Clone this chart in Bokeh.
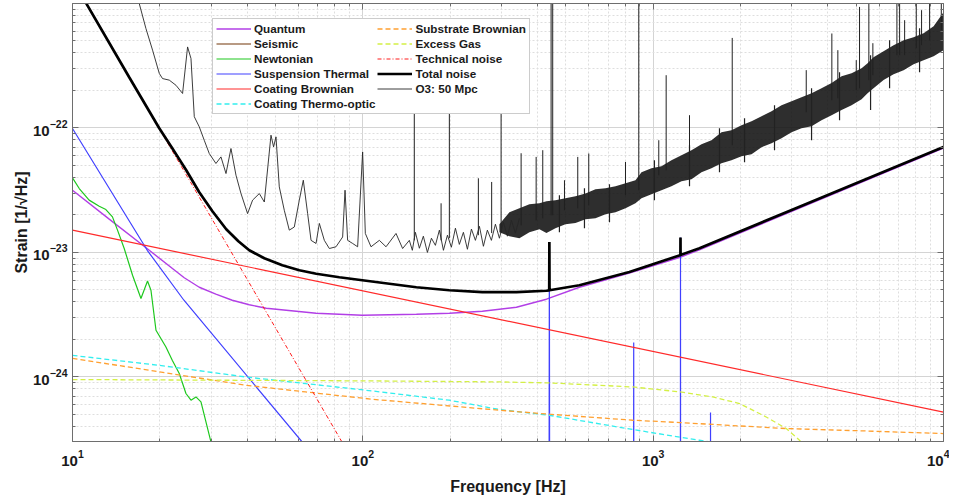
from bokeh.plotting import figure
from bokeh.models import Range1d, LogAxis, FixedTicker, Legend, LegendItem
from bokeh.embed import file_html
from bokeh.resources import INLINE

# ---------------- data (frequency in Hz, strain in 1/sqrt(Hz)) ----------------
quantum_f = [10, 13.38, 18.38, 24.26, 27.33, 31.17, 35.5, 40.63, 46.5, 69.1, 99.6, 152.9, 198.6, 258, 338, 429,
             557, 828, 1238, 1444, 10000]
quantum_h = [3.16e-23, 1.85e-23, 1.04e-23, 6.26e-24, 5.25e-24, 4.62e-24, 4.13e-24, 3.80e-24, 3.56e-24, 3.25e-24,
             3.13e-24, 3.19e-24, 3.25e-24, 3.37e-24, 3.63e-24, 4.21e-24, 5.25e-24, 6.81e-24, 9.15e-24, 1.05e-23,
             6.87e-23]

seismic_f = [10, 15, 20]
seismic_h = [2.0e-25, 1.0e-26, 1.0e-27]

newton_f = [10, 10.55, 11.41, 12.36, 13.03, 13.73, 14.29, 15.07, 16.10, 17.21, 18.13, 18.63, 19.39, 20.98,
            22.06, 23.32, 24.59, 25.59, 26.62, 27.70, 29.99, 33.3]
newton_h = [3.97e-23, 3.26e-23, 2.63e-23, 2.35e-23, 2.21e-23, 1.93e-23, 1.51e-23, 1.075e-23, 6.56e-24, 4.26e-24,
            5.90e-24, 4.97e-24, 2.37e-24, 1.74e-24, 1.36e-24, 1.065e-24, 7.36e-25, 6.50e-25, 6.91e-25, 6.30e-25,
            3.0e-25, 1.48e-25]

susp_f = [10, 18.09, 24.2, 61.9, 100, 437, 439, 441, 855, 857, 859, 1240, 1242, 1244, 1574, 1576, 1578, 10000]
susp_h = [9.89e-23, 1.04e-23, 4.13e-24, 2.99e-25, 7.9e-26, 1e-27, 1.21e-23, 1e-27, 1e-27, 1.89e-24, 1e-27,
          1e-27, 1.32e-23, 1e-27, 1e-27, 5.18e-25, 1e-27, 1e-29]

coat_f = [10, 10000]
coat_h = [1.51e-23, 5.21e-25]

cto_f = [10, 19.85, 39.45, 63.5, 107.8, 198.6, 296, 439, 851, 1444, 2148]
cto_h = [1.49e-24, 1.24e-24, 1.0e-24, 8.85e-25, 7.72e-25, 6.50e-25, 5.47e-25, 4.92e-25, 3.78e-25, 3.10e-25, 2.68e-25]

sub_f = [10, 19.85, 39.45, 63.5, 107.8, 296, 439, 851, 1238, 2873, 5420, 10000]
sub_h = [1.41e-24, 1.10e-24, 8.58e-25, 7.58e-25, 6.62e-25, 5.40e-25, 5.02e-25, 4.49e-25, 4.30e-25, 3.85e-25,
         3.68e-25, 3.51e-25]

gas_f = [10, 107.8, 296, 439, 851, 1238, 1605, 1984, 2451, 2873, 3192, 3597]
gas_h = [9.53e-25, 9.29e-25, 9.12e-25, 8.95e-25, 8.31e-25, 7.58e-25, 6.91e-25, 6.11e-25, 4.77e-25, 3.85e-25,
         3.10e-25, 2.14e-25]

tech_f = [10, 100]
tech_h = [1.55e-21, 1.55e-25]

total_f = [10, 11.15, 15.68, 19.9, 22.06, 24.65, 27.33, 30.34, 33.85, 37.27, 40.63, 45.78, 52.8, 60.42, 69.1,
           83.0, 99.6, 152.9, 198.6, 258, 338, 429, 438.5, 439, 439.5, 557, 828, 1238, 1241.5, 1242, 1242.5,
           1444, 3192, 10000]
total_h = [1.55e-21, 1.0e-21, 2.55e-22, 9.94e-23, 6.87e-23, 4.57e-23, 3.04e-23, 2.14e-23, 1.536e-23, 1.23e-23,
           1.04e-23, 8.98e-24, 7.89e-24, 7.19e-24, 6.74e-24, 6.32e-24, 5.98e-24, 5.25e-24, 4.97e-24, 4.79e-24,
           4.79e-24, 4.92e-24, 4.96e-24, 1.21e-23, 4.97e-24, 5.45e-24, 6.97e-24, 9.49e-24, 9.55e-24, 1.32e-23,
           9.55e-24, 1.08e-23, 2.33e-23, 7.04e-23]

# O3 measured spectrum: low-frequency trace
o3_f = [16.86, 17.90, 18.87, 19.90, 20.42, 21.54, 22.72, 23.94, 24.91, 25.59, 26.27, 27.33, 28.43, 29.58, 31.19,
        32.46, 33.78, 35.14, 36.57, 38.05, 40.09, 41.72, 44.00, 45.78, 48.27, 49.27, 50.22, 51.55, 53.64, 55.81,
        58.07, 60.42, 62.37, 64.55, 66.32, 69.00, 70.82, 73.69, 76.67, 80.84, 85.20, 86.84, 88.64, 92.24, 95.96,
        99.84, 102.0, 106.7, 114.0, 120.2, 130.1, 137.1, 144.6,
        148.1, 151.7, 156.6, 161.6, 166.9, 172.3, 177.8, 183.5, 189.5, 195.6, 201.8, 208.4, 215.0, 222.0, 229.2,
        236.6, 244.2, 252.1, 260.2, 268.5, 277.2, 286.2, 295.4, 304.9, 314.7, 324.9, 335.4, 346.2]
o3_h = [1.06e-21, 6.29e-22, 4.21e-22, 2.74e-22, 2.49e-22, 2.42e-22, 2.20e-22, 1.89e-22, 4.47e-22, 3.61e-22,
        1.23e-22, 1.02e-22, 7.96e-23, 6.23e-23, 5.18e-23, 5.85e-23, 4.30e-23, 6.83e-23, 4.17e-23, 2.97e-23,
        2.05e-23, 2.63e-23, 2.97e-23, 2.54e-23, 8.74e-23, 7.04e-23, 8.47e-23, 3.36e-23, 2.18e-23, 1.51e-23,
        1.60e-23, 2.63e-23, 3.80e-23, 2.05e-23, 1.25e-23, 1.18e-23, 1.71e-23, 1.25e-23, 1.075e-23, 1.11e-23,
        1.33e-23, 3.16e-23, 1.25e-23, 1.18e-23, 1.11e-23, 6.41e-23, 1.42e-23, 1.11e-23, 1.25e-23, 1.11e-23,
        1.42e-23, 1.075e-23, 1.25e-23,
        1.04e-23, 1.45e-23, 1.08e-23, 1.35e-23, 1.00e-23, 1.30e-23, 1.14e-23, 1.51e-23, 1.04e-23, 1.375e-23,
        1.10e-23, 1.565e-23, 1.16e-23, 1.45e-23, 1.06e-23, 1.54e-23, 1.25e-23, 1.62e-23, 1.12e-23, 1.51e-23,
        1.25e-23, 1.685e-23, 1.30e-23, 1.75e-23, 1.35e-23, 1.81e-23, 1.43e-23, 1.88e-23]

# O3 high-frequency dense noise band (lower / upper envelope)
o3_band_f = [295.4, 319.8, 346.2, 374.8, 405.8, 429, 460.6, 498.7, 540.0, 584.7, 632.8, 685.2, 741.8, 803.1, 869.0,
             911.6, 986.5, 1068, 1156, 1252, 1355, 1467, 1588, 1719, 1861, 2015, 2182, 2362, 2557, 2768, 2997,
             3243, 3512, 3801, 4116, 4456, 4824, 5223, 5477, 5741, 6217, 6730, 7287, 7888, 8540, 9246, 10000]
o3_band_hi = [1.685e-23, 2.10e-23, 2.26e-23, 2.44e-23, 2.48e-23, 2.58e-23, 2.63e-23, 2.72e-23, 2.83e-23, 2.97e-23,
              3.22e-23, 3.28e-23, 3.40e-23, 3.60e-23, 3.80e-23, 4.41e-23, 4.75e-23, 4.93e-23, 5.50e-23, 6.04e-23,
              6.62e-23, 7.40e-23, 7.96e-23, 9.24e-23, 9.58e-23, 1.05e-22, 1.13e-22, 1.24e-22, 1.36e-22, 1.52e-22,
              1.64e-22, 1.765e-22, 1.90e-22, 2.08e-22, 2.29e-22, 2.60e-22, 2.75e-22, 3.02e-22, 3.31e-22, 3.70e-22,
              4.13e-22, 4.62e-22, 5.06e-22, 5.35e-22, 5.76e-22, 6.56e-22, 8.50e-22]
o3_band_lo = [1.45e-23, 1.35e-23, 1.30e-23, 1.45e-23, 1.536e-23, 1.43e-23, 1.565e-23, 1.685e-23, 1.72e-23, 1.85e-23,
              1.88e-23, 2.03e-23, 2.10e-23, 2.26e-23, 2.48e-23, 2.72e-23, 2.93e-23, 3.16e-23, 3.40e-23, 3.73e-23,
              3.87e-23, 4.41e-23, 4.75e-23, 5.21e-23, 5.50e-23, 5.93e-23, 6.15e-23, 7.00e-23, 7.54e-23, 8.27e-23,
              9.24e-23, 9.95e-23, 1.03e-22, 1.153e-22, 1.265e-22, 1.39e-22, 1.52e-22, 1.70e-22, 1.90e-22, 2.08e-22,
              2.42e-22, 2.70e-22, 2.91e-22, 3.25e-22, 3.50e-22, 3.77e-22, 4.21e-22]

# O3 noise excursions beyond the band edges
o3_jit_f = [475.4, 579.9, 707.2, 1010, 1334, 1692, 2064, 2618, 3512, 4385, 5608, 6521, 8271]
o3_jit_hi = [2.88e-23, 3.28e-23, 3.53e-23, 5.50e-23, 7.26e-23, 9.95e-23, 1.196e-22, 1.52e-22, 2.08e-22, 2.80e-22,
             3.84e-22, 5.06e-22, 6.32e-22]
o3_jit_lo = [1.45e-23, 1.565e-23, 1.75e-23, 2.63e-23, 3.40e-23, 4.41e-23, 5.30e-23, 6.62e-23, 7.96e-23, 1.153e-22,
             1.39e-22, 2.08e-22, 2.80e-22]

# O3 spectral lines
o3_line_f = [150.4, 198.6, 299.4, 186.0, 250.0, 277.8, 350.9, 395.3, 416.6, 445.1, 450.8, 494.9, 549.9, 600.0,
             802.9, 892.1, 1045.5, 1108.6, 1334, 1872, 3367, 4125, 4326, 5006, 5138, 5532, 5711, 6911, 7061,
             7347, 8058, 8404, 8957, 9827]
o3_line_top = [1.67e-22, 1.67e-22, 1.67e-22, 2.48e-23, 3.94e-23, 3.68e-23, 6.26e-23, 5.85e-23, 6.62e-23, 1.28e-21,
               1.28e-21, 3.80e-23, 5.85e-23, 6.23e-23, 5.33e-23, 1.28e-21, 7.96e-23, 2.65e-22, 1.265e-22,
               5.28e-22, 2.91e-22, 5.73e-22, 4.21e-22, 3.50e-22, 9.37e-22, 1.28e-21, 4.79e-22, 1.28e-21,
               1.28e-21, 7.33e-22, 1.28e-21, 8.82e-22, 1.28e-21, 1.28e-21]
o3_line_base = [1.25e-23, 1.30e-23, 1.45e-23, 1.25e-23, 1.375e-23, 1.43e-23, 1.65e-23, 1.81e-23, 1.88e-23,
                1.99e-23, 1.99e-23, 2.18e-23, 2.26e-23, 2.39e-23, 2.88e-23, 3.16e-23, 4.17e-23, 4.57e-23,
                5.50e-23, 7.26e-23, 1.337e-22, 1.67e-22, 1.73e-22, 2.01e-22, 2.08e-22, 2.42e-22, 2.65e-22,
                3.84e-22, 3.84e-22, 3.84e-22, 4.37e-22, 4.62e-22, 5.06e-22, 6.09e-22]

x_major = [10, 100, 1000, 10000]
y_major = [1e-25, 1e-24, 1e-23, 1e-22, 1e-21]

# ---------------- figure ----------------
FONT = "Liberation Sans"
AX = "#6e6e6e"

p = figure(x_axis_type="log", y_axis_type="log",
           x_range=Range1d(10, 1e4), y_range=Range1d(3.03e-25, 9.98e-22),
           frame_width=871, frame_height=438,
           min_border_left=72, min_border_right=6, min_border_top=3, min_border_bottom=52,
           output_backend="svg", toolbar_location=None,
           x_axis_label="Frequency [Hz]", y_axis_label="Strain [1/\u221aHz]")
p.outline_line_color = AX
p.background_fill_color = "white"
p.border_fill_color = "white"

x_minor = [m * 10 ** e for e in range(1, 4) for m in range(2, 10)]
y_minor = [m * 10.0 ** e for e in range(-25, -21) for m in range(2, 10)]


def style_axis(ax, ticks, minor):
    ax.ticker = FixedTicker(ticks=ticks, minor_ticks=minor)
    ax.axis_line_color = AX
    ax.major_tick_line_color = AX
    ax.minor_tick_line_color = AX
    ax.major_tick_in = 6
    ax.major_tick_out = 0
    ax.minor_tick_in = 3
    ax.minor_tick_out = 0
    ax.major_label_text_font = FONT
    ax.major_label_text_font_style = "bold"
    ax.major_label_text_color = "#1a1a1a"
    ax.major_label_text_font_size = "15px"
    ax.axis_label_text_font = FONT
    ax.axis_label_text_font_style = "bold"
    ax.axis_label_text_font_size = "16px"
    ax.axis_label_text_color = "#1a1a1a"


style_axis(p.xaxis[0], x_major, x_minor)
style_axis(p.yaxis[0], y_major, y_minor)
p.xaxis[0].major_label_standoff = 8
p.xaxis[0].axis_label_standoff = 9
p.yaxis[0].major_label_standoff = 5
p.yaxis[0].axis_label_standoff = 0

# box axes (ticks only) on top and right
top_ax = LogAxis()
style_axis(top_ax, x_major, x_minor)
top_ax.major_label_text_font_size = "1px"
top_ax.major_label_text_color = None
top_ax.major_label_standoff = 0
p.add_layout(top_ax, "above")
right_ax = LogAxis()
style_axis(right_ax, y_major, y_minor)
right_ax.major_label_text_font_size = "1px"
right_ax.major_label_text_color = None
right_ax.major_label_standoff = 0
p.add_layout(right_ax, "right")

for g, t, m in ((p.xgrid[0], x_major, x_minor), (p.ygrid[0], y_major, y_minor)):
    g.ticker = FixedTicker(ticks=t, minor_ticks=m)
    g.grid_line_color = "#d4d4d4"
    g.grid_line_width = 1
    g.minor_grid_line_color = "#dedede"
    g.minor_grid_line_dash = "2 2"

# ---------------- curves ----------------
r_q = p.line(quantum_f, quantum_h, line_color="#b23fe6", line_width=1.4)
r_s = p.line(seismic_f, seismic_h, line_color="#a0785a", line_width=1.4)
r_n = p.line(newton_f, newton_h, line_color="#1ec81e", line_width=1.2)
r_st = p.line(susp_f, susp_h, line_color="#4040ff", line_width=1.2)
r_cb = p.line(coat_f, coat_h, line_color="#ff2a2a", line_width=1.2)
r_cto = p.line(cto_f, cto_h, line_color="#33eeee", line_width=1.3, line_dash="5 3")
r_sub = p.line(sub_f, sub_h, line_color="#ffa030", line_width=1.3, line_dash="5 3")
r_gas = p.line(gas_f, gas_h, line_color="#d4f046", line_width=1.3, line_dash="5 3")
r_tech = p.line(tech_f, tech_h, line_color="#ff1a1a", line_width=1.0, line_dash="4 2 1 2")
r_tot = p.line(total_f, total_h, line_color="black", line_width=2.7)

p.varea(x=o3_band_f, y1=o3_band_lo, y2=o3_band_hi, fill_color="#111111", fill_alpha=0.88)
p.segment(x0=o3_jit_f, y0=o3_jit_lo, x1=o3_jit_f, y1=o3_jit_hi, line_color="#222222", line_width=1.2)
p.segment(x0=o3_line_f, y0=o3_line_base, x1=o3_line_f, y1=o3_line_top, line_color="#202020", line_width=1)
r_o3 = p.line(o3_f, o3_h, line_color="#262626", line_width=0.9)

legend = Legend(items=[
    LegendItem(label="Quantum", renderers=[r_q]),
    LegendItem(label="Seismic", renderers=[r_s]),
    LegendItem(label="Newtonian", renderers=[r_n]),
    LegendItem(label="Suspension Thermal", renderers=[r_st]),
    LegendItem(label="Coating Brownian", renderers=[r_cb]),
    LegendItem(label="Coating Thermo-optic", renderers=[r_cto]),
    LegendItem(label="Substrate Brownian", renderers=[r_sub]),
    LegendItem(label="Excess Gas", renderers=[r_gas]),
    LegendItem(label="Technical noise", renderers=[r_tech]),
    LegendItem(label="Total noise", renderers=[r_tot]),
    LegendItem(label="O3: 50 Mpc", renderers=[r_o3]),
], location=(140, 327), orientation="vertical", nrows=6,
    label_text_font=FONT, label_text_font_style="bold", label_text_font_size="11.7px",
    label_text_color="#1a1a1a",
    glyph_width=35, glyph_height=13, label_height=13, label_standoff=3, spacing=2, padding=3,
    border_line_color="#9a9a9a", border_line_width=1, background_fill_alpha=1.0, margin=0)
p.add_layout(legend, "center")

open("out.html", "w").write(file_html(p, INLINE))
